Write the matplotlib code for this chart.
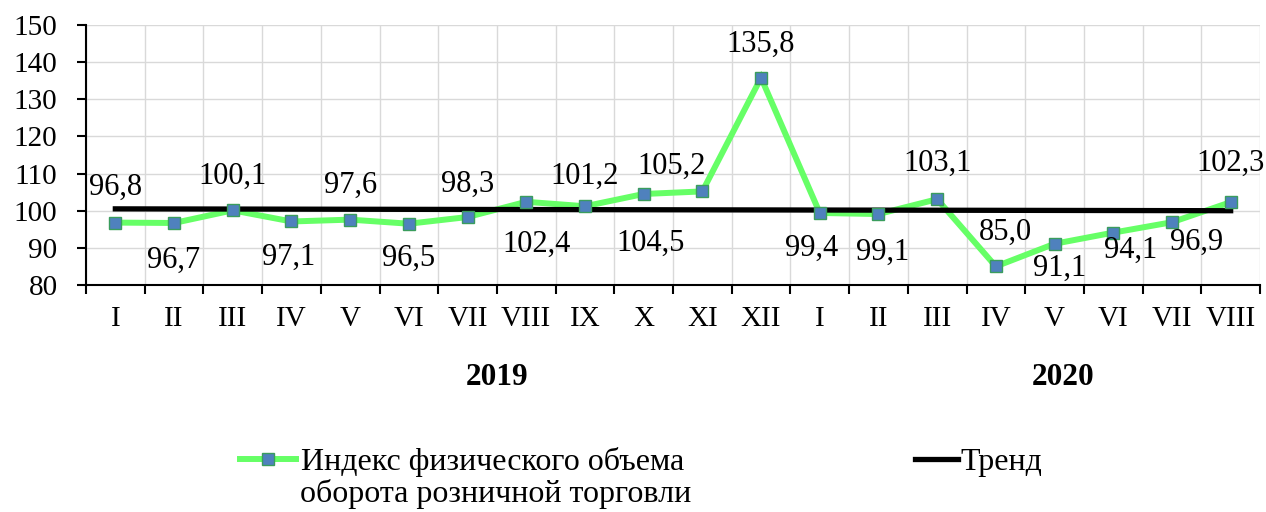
import matplotlib
matplotlib.use("Agg")
import matplotlib.pyplot as plt
from matplotlib.lines import Line2D
import numpy as np

months = ["I", "II", "III", "IV", "V", "VI", "VII", "VIII", "IX", "X", "XI", "XII",
          "I", "II", "III", "IV", "V", "VI", "VII", "VIII"]
index_values = [96.8, 96.7, 100.1, 97.1, 97.6, 96.5, 98.3, 102.4, 101.2, 104.5,
                105.2, 135.8, 99.4, 99.1, 103.1, 85.0, 91.1, 94.1, 96.9, 102.3]
trend_values = [100.5, 100.0]
years = ["2019", "2020"]

series_label = "Индекс физического объема"
series_label_2 = "оборота розничной торговли"
trend_label = "Тренд"

# label offsets (pixels) relative to each point
label_offsets = [(0, 35), (0, -37), (0, 34), (-3, -36), (0, 34), (0, -35), (0, 33),
                 (10, -43), (0, 30), (7, -49), (-31, 25), (0, 33), (-8, -35),
                 (4, -38), (0, 36), (10, 34), (5, -25), (17, -18), (25, -20), (0, 39)]

plt.rcParams["font.family"] = ["Liberation Serif", "DejaVu Serif"]
plt.rcParams["font.size"] = 21

GREEN = "#66FF66"
BLUE = "#4F81BD"

fig = plt.figure(figsize=(12.66, 5.12), dpi=100)
ax = fig.add_axes([86 / 1266, 1 - 285 / 512, (1260 - 86) / 1266, 260 / 512])

x = np.arange(len(index_values))
ax.plot(x, index_values, color=GREEN, lw=4.3, solid_joinstyle="miter", zorder=3)
ax.plot([x[0], x[-1]], trend_values, color="black", lw=3.8, zorder=4)
ax.plot(x, index_values, ls="none", marker="s", ms=8.5, mfc=BLUE, mec="#3A9D5D",
        mew=1.0, zorder=5)

for xi, v, (dx, dy) in zip(x, index_values, label_offsets):
    ax.annotate(f"{v:.1f}".replace(".", ","), (xi, v), xytext=(dx, dy),
                textcoords="offset pixels", ha="center", va="center",
                fontsize=22, zorder=6)

ax.set_xlim(-0.5, len(months) - 0.5)
ax.set_ylim(80, 150)
ax.set_yticks(np.arange(80, 151, 10))
ax.set_xticks(np.arange(-0.5, len(months), 1.0))
ax.set_xticklabels([])
ax.set_xticks(x, minor=True)
ax.set_xticklabels(months, minor=True)
ax.tick_params(axis="x", which="major", direction="out", length=6.5, width=1.5)
ax.tick_params(axis="x", which="minor", length=0, pad=15)
ax.tick_params(axis="y", direction="out", length=6.5, width=1.5, pad=14)

ax.grid(True, which="major", color="#D9D9D9", lw=1.0)
ax.set_axisbelow(True)
for s in ["top", "right"]:
    ax.spines[s].set_visible(False)
for s in ["left", "bottom"]:
    ax.spines[s].set_linewidth(1.5)

year_pos = [6.5, 16.15]
for yp, yr in zip(year_pos, years):
    ax.text(yp, -0.354, yr, transform=ax.get_xaxis_transform(), ha="center",
            va="center", fontweight="bold", fontsize=22.5)

h1 = Line2D([], [], color=GREEN, lw=4.3, marker="s", ms=8.5, mfc=BLUE,
            mec="#3A9D5D", mew=1.0)
h2 = Line2D([], [], color="black", lw=3.8)
fig.legend([h1], [series_label], loc="center left", frameon=False,
           bbox_to_anchor=(240 / 1266, 1 - 462 / 512), borderpad=0,
           borderaxespad=0, handlelength=1.75, handletextpad=0.15, fontsize=23)
fig.text(300 / 1266, 1 - 494 / 512, series_label_2, ha="left", va="center",
         fontsize=23)
fig.legend([h2], [trend_label], loc="center left", frameon=False,
           bbox_to_anchor=(915 / 1266, 1 - 462 / 512), borderpad=0,
           borderaxespad=0, handlelength=1.35, handletextpad=0.08, fontsize=23)

fig.savefig("out.png", dpi=100)
